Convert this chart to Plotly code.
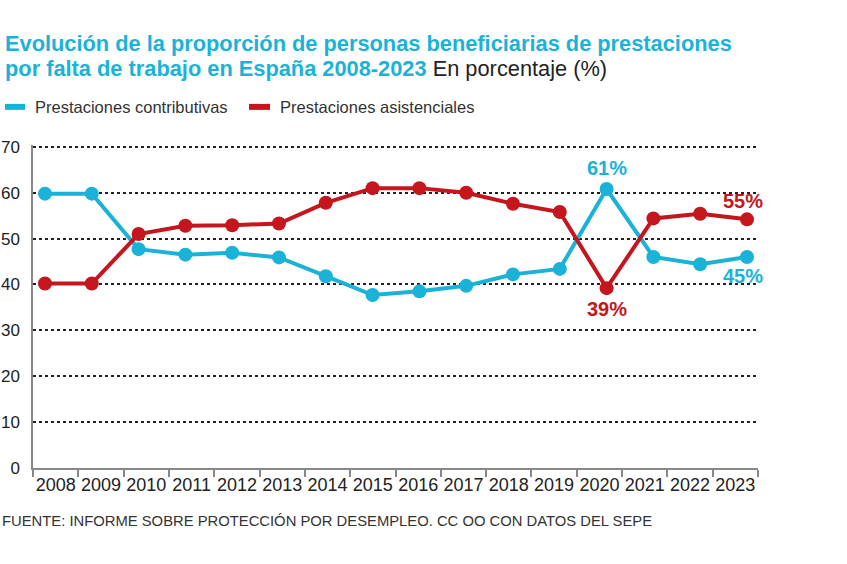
import plotly.graph_objects as go

years = list(range(2008, 2024))
contributivas = [59.8, 59.8, 47.7, 46.5, 46.9, 45.9, 41.8, 37.7, 38.5, 39.7, 42.2, 43.4, 60.8, 46.0, 44.4, 46.0]
asistenciales = [40.2, 40.2, 51.0, 52.8, 52.9, 53.3, 57.8, 61.0, 61.0, 60.0, 57.6, 55.8, 39.2, 54.4, 55.4, 54.2]
series_names = ['Prestaciones contributivas', 'Prestaciones asistenciales']
y_ticks = [0, 10, 20, 30, 40, 50, 60, 70]

BLUE = '#1AB3D7'
RED = '#C5161D'
FONT = 'Liberation Sans'

fig = go.Figure()
for name, vals, col in [(series_names[0], contributivas, BLUE),
                        (series_names[1], asistenciales, RED)]:
    fig.add_trace(go.Scatter(x=years, y=vals, mode='lines+markers', name=name,
                             line=dict(color=col, width=4),
                             marker=dict(color=col, size=14),
                             showlegend=False, cliponaxis=False))

# axis for year labels and boundary ticks
fig.add_trace(go.Scatter(x=[None], y=[None], xaxis='x2', showlegend=False))

# value labels
fig.add_annotation(x=2020, y=contributivas[12], text='<b>61%</b>', showarrow=False,
                   yshift=21, font=dict(color=BLUE, size=20, family=FONT))
fig.add_annotation(x=2020, y=asistenciales[12], text='<b>39%</b>', showarrow=False,
                   yshift=-21, font=dict(color=RED, size=20, family=FONT))
fig.add_annotation(x=2023, y=asistenciales[15], text='<b>55%</b>', showarrow=False,
                   yshift=18, xshift=-4, font=dict(color=RED, size=20, family=FONT))
fig.add_annotation(x=2023, y=contributivas[15], text='<b>45%</b>', showarrow=False,
                   yshift=-19, xshift=-4, font=dict(color=BLUE, size=20, family=FONT))

# title (paper coords; plot area spans y 145..468 px)
fig.add_annotation(xref='paper', yref='paper', x=-0.0414, y=1.313, xanchor='left', yanchor='middle',
                   text='<b>Evolución de la proporción de personas beneficiarias de prestaciones</b>',
                   showarrow=False, font=dict(color=BLUE, size=21.8, family=FONT))
fig.add_annotation(xref='paper', yref='paper', x=-0.0414, y=1.238, xanchor='left', yanchor='middle',
                   text='<b>por falta de trabajo en España 2008-2023</b> '
                        '<span style="color:#222222">En porcentaje (%)</span>',
                   showarrow=False, font=dict(color=BLUE, size=21.8, family=FONT))

# legend
for x0, x1, tx, name, col in [(-0.0386, -0.011, 0.0, series_names[0], BLUE),
                              (0.2979, 0.3269, 0.338, series_names[1], RED)]:
    fig.add_shape(type='line', xref='paper', yref='paper', x0=x0, x1=x1, y0=1.118, y1=1.118,
                  line=dict(color=col, width=6))
    fig.add_annotation(xref='paper', yref='paper', x=tx, y=1.118, xanchor='left', yanchor='middle',
                       text=name, showarrow=False,
                       font=dict(color='#333333', size=16.5, family=FONT))

# source
fig.add_annotation(xref='paper', yref='paper', x=-0.045, y=-0.164, xanchor='left', yanchor='middle',
                   text='FUENTE: INFORME SOBRE PROTECCIÓN POR DESEMPLEO. CC OO CON DATOS DEL SEPE',
                   showarrow=False, font=dict(color='#333333', size=14.8, family=FONT))

fig.update_layout(
    width=847, height=564,
    margin=dict(l=33, r=89, t=145, b=96),
    plot_bgcolor='white', paper_bgcolor='white',
    font=dict(family=FONT, color='#333333', size=17),
    showlegend=False,
    xaxis=dict(range=[2007.744, 2023.235], visible=False, showgrid=False, zeroline=False),
    xaxis2=dict(range=[0, 16], overlaying='x', side='bottom', automargin=False,
                tickvals=[i + 0.5 for i in range(16)], ticktext=[str(y) for y in years],
                ticks='', showgrid=False, zeroline=False,
                showline=True, linecolor='#888888', linewidth=1.5,
                minor=dict(tickvals=list(range(17)), ticks='outside', ticklen=7,
                           tickcolor='#888888', tickwidth=1.5, showgrid=False),
                tickfont=dict(size=18, color='#222222')),
    yaxis=dict(range=[0, 70.4], tickvals=y_ticks, showgrid=True, gridcolor='#222222',
               griddash='dot', gridwidth=1.5, zeroline=False, automargin=False,
               showline=True, linecolor='#888888', linewidth=1.5,
               ticks='', ticklabelstandoff=8, tickfont=dict(size=17, color='#222222')),
)

# page has a default body margin; drop it so the figure sits at the window's corner
fig.write_html('out.html', config={'displayModeBar': False},
               post_script="document.body.style.margin = '0';")
